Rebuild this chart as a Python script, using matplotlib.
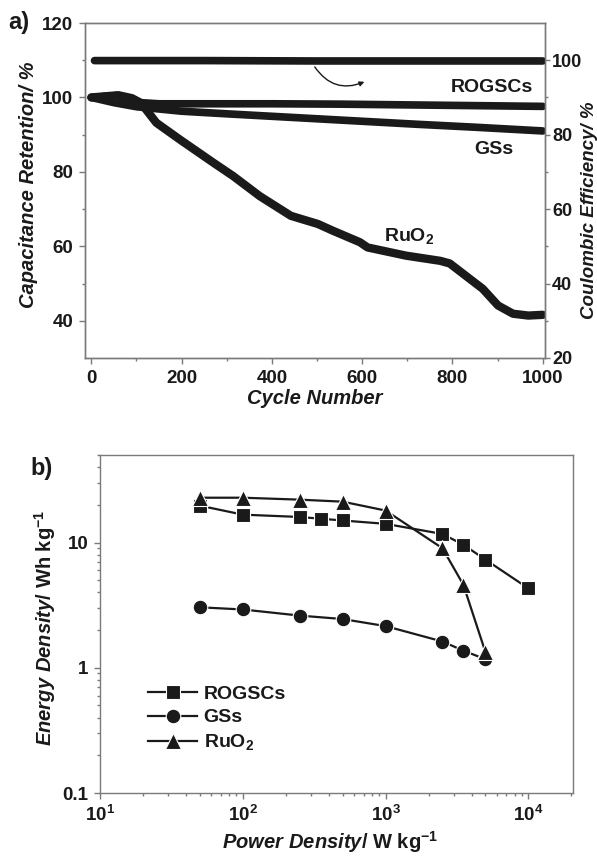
import matplotlib
matplotlib.use("Agg")
import matplotlib.pyplot as plt
from matplotlib.ticker import MultipleLocator, FixedLocator, LogLocator, NullFormatter

plt.rcParams['font.family'] = ['Liberation Sans', 'DejaVu Sans']
plt.rcParams['font.weight'] = 'bold'
plt.rcParams['mathtext.fontset'] = 'custom'
plt.rcParams['mathtext.rm'] = 'Liberation Sans:bold'
plt.rcParams['mathtext.it'] = 'Liberation Sans:italic:bold'
plt.rcParams['mathtext.bf'] = 'Liberation Sans:bold'
plt.rcParams['mathtext.default'] = 'rm'

# ---- panel a: cycling stability ----
rogscs_cycle = [0, 15, 30, 55, 80, 110, 150, 250, 400, 550, 700, 850, 1000]
rogscs_ret = [100, 100.1, 100.3, 100.5, 99.8, 98.6, 98.3, 98.3, 98.3, 98.2, 98.0, 97.8, 97.6]

gss_cycle = [0, 50, 100, 200, 300, 450, 600, 720, 850, 1000]
gss_ret = [100, 98.6, 97.5, 96.3, 95.6, 94.6, 93.6, 92.8, 92.0, 91.0]

ruo2_cycle = [0, 30, 60, 90, 110, 144, 196, 270, 314, 373, 442, 502, 535, 595, 612,
              697, 773, 794, 824, 867, 901, 934, 968, 1000]
ruo2_ret = [100, 100.3, 100.6, 99.8, 98.5, 93.2, 88.7, 82.5, 78.9, 73.5, 68.2, 66.0, 64.2,
            61.1, 59.7, 57.5, 56.1, 55.4, 52.6, 48.6, 44.1, 41.9, 41.4, 41.6]

ce_cycle = [7, 250, 500, 750, 1000]
ce_eff = [99.9, 99.9, 99.8, 99.8, 99.8]

# ---- panel b: Ragone plot ----
rogscs_power = [50, 100, 250, 350, 500, 1000, 2500, 3500, 5000, 10000]
rogscs_energy = [19.7, 16.7, 16.0, 15.5, 15.0, 14.1, 11.7, 9.6, 7.3, 4.3]

gss_power = [50, 100, 250, 500, 1000, 2500, 3500, 5000]
gss_energy = [3.04, 2.92, 2.61, 2.45, 2.15, 1.62, 1.37, 1.17]

ruo2_power = [50, 100, 250, 500, 1000, 2500, 3500, 5000]
ruo2_energy = [22.8, 22.8, 22.0, 21.2, 18.0, 9.0, 4.6, 1.33]

W, H = 597, 856
fig = plt.figure(figsize=(W / 100, H / 100), dpi=100)
ink = '#1a1a1a'
spine_c = '#7a7a7a'
tick_fs = 13.5
label_fs = 14.5


def px_axes(l, r, t, b):
    return fig.add_axes([l / W, 1 - b / H, (r - l) / W, (b - t) / H])


def style(ax):
    for s in ax.spines.values():
        s.set_color(spine_c)
        s.set_linewidth(1.0)
    ax.tick_params(which='both', direction='out', colors=spine_c, labelcolor=ink,
                   labelsize=tick_fs)
    ax.tick_params(which='major', length=4.5, width=1, pad=4)
    ax.tick_params(which='minor', length=2.5, width=1)


# panel a
ax1 = px_axes(85, 545, 23, 358)
ax2 = ax1.twinx()
style(ax1)
style(ax2)
ax2.tick_params(which='major', length=3.5, pad=1.5, labelsize=13)
lw = 5.5
ax1.plot(gss_cycle, gss_ret, color=ink, lw=lw, solid_capstyle='round')
ax1.plot(ruo2_cycle, ruo2_ret, color=ink, lw=lw + 0.5, solid_capstyle='round')
ax1.plot(rogscs_cycle, rogscs_ret, color=ink, lw=lw, solid_capstyle='round')
ax2.plot(ce_cycle, ce_eff, color=ink, lw=lw, solid_capstyle='round')

ax1.set_xlim(-14, 1005)
ax1.set_ylim(30, 120)
ax2.set_ylim(20, 110)
ax1.xaxis.set_major_locator(MultipleLocator(200))
ax1.xaxis.set_minor_locator(MultipleLocator(100))
ax1.yaxis.set_major_locator(FixedLocator([40, 60, 80, 100, 120]))
ax1.yaxis.set_minor_locator(FixedLocator([50, 70, 90, 110]))
ax2.yaxis.set_major_locator(FixedLocator([20, 40, 60, 80, 100]))
ax2.yaxis.set_minor_locator(FixedLocator([30, 50, 70, 90]))
ax1.tick_params(axis='x', which='both', top=False)

ax1.text(887, 102.6, 'ROGSCs', ha='center', va='center', fontsize=14, color=ink)
ax1.text(892, 86.0, 'GSs', ha='center', va='center', fontsize=14, color=ink)
ax1.text(705, 62.8, 'RuO$_2$', ha='center', va='center', fontsize=14, color=ink)
ax2.annotate('', xy=(605, 94.2), xytext=(495, 98.2),
             arrowprops=dict(arrowstyle='-|>', color=ink, lw=1.0, mutation_scale=7,
                             connectionstyle='arc3,rad=0.4', shrinkA=0, shrinkB=0))

fig.text(29 / W, 1 - 185 / H, 'Capacitance Retention/ %', rotation=90, ha='center',
         va='center', fontsize=label_fs, style='italic', color=ink)
fig.text(590 / W, 1 - 210 / H, 'Coulombic Efficiency/ %', rotation=90, ha='center',
         va='center', fontsize=13.5, style='italic', color=ink)
fig.text(315 / W, 1 - 399 / H, 'Cycle Number', ha='center', va='center',
         fontsize=label_fs, style='italic', color=ink)
fig.text(8 / W, 1 - 22 / H, 'a)', ha='left', va='center', fontsize=17, color=ink)

# panel b
ax3 = px_axes(100, 573, 455, 793)
style(ax3)
ax3.set_xscale('log')
ax3.set_yscale('log')
mk = dict(color=ink, lw=1.6, markeredgecolor='white', markeredgewidth=0.8)
ax3.plot(rogscs_power, rogscs_energy, marker='s', markersize=10, label='ROGSCs', **mk)
ax3.plot(gss_power, gss_energy, marker='o', markersize=10.5, label='GSs', **mk)
ax3.plot(ruo2_power, ruo2_energy, marker='^', markersize=11, label='RuO$_2$', **mk)
ax3.set_xlim(10, 2.05e4)
ax3.set_ylim(0.1, 50)
ax3.xaxis.set_major_locator(FixedLocator([10, 100, 1000, 10000]))
ax3.set_xticklabels([r'$10^{1}$', r'$10^{2}$', r'$10^{3}$', r'$10^{4}$'])
ax3.yaxis.set_major_locator(FixedLocator([0.1, 1, 10]))
ax3.set_yticklabels(['0.1', '1', '10'])
ax3.xaxis.set_minor_locator(LogLocator(base=10, subs=range(2, 10)))
ax3.yaxis.set_minor_locator(LogLocator(base=10, subs=range(2, 10)))
ax3.xaxis.set_minor_formatter(NullFormatter())
ax3.yaxis.set_minor_formatter(NullFormatter())

leg = ax3.legend(loc='upper left', bbox_to_anchor=(0.065, 0.37), frameon=False,
                 fontsize=14, handlelength=2.5, handletextpad=0.35,
                 labelspacing=0.3, numpoints=1)
for t in leg.get_texts():
    t.set_color(ink)

fig.text(45 / W, 1 - 628 / H, r'$\mathit{Energy\ Density}$/ Wh kg$^{-1}$', rotation=90,
         ha='center', va='center', fontsize=label_fs, color=ink)
fig.text(330 / W, 1 - 842 / H, r'$\mathit{Power\ Density}$/ W kg$^{-1}$', ha='center',
         va='center', fontsize=label_fs, color=ink)
fig.text(30 / W, 1 - 468 / H, 'b)', ha='left', va='center', fontsize=17, color=ink)

fig.savefig('out.png', dpi=100, facecolor='white')
